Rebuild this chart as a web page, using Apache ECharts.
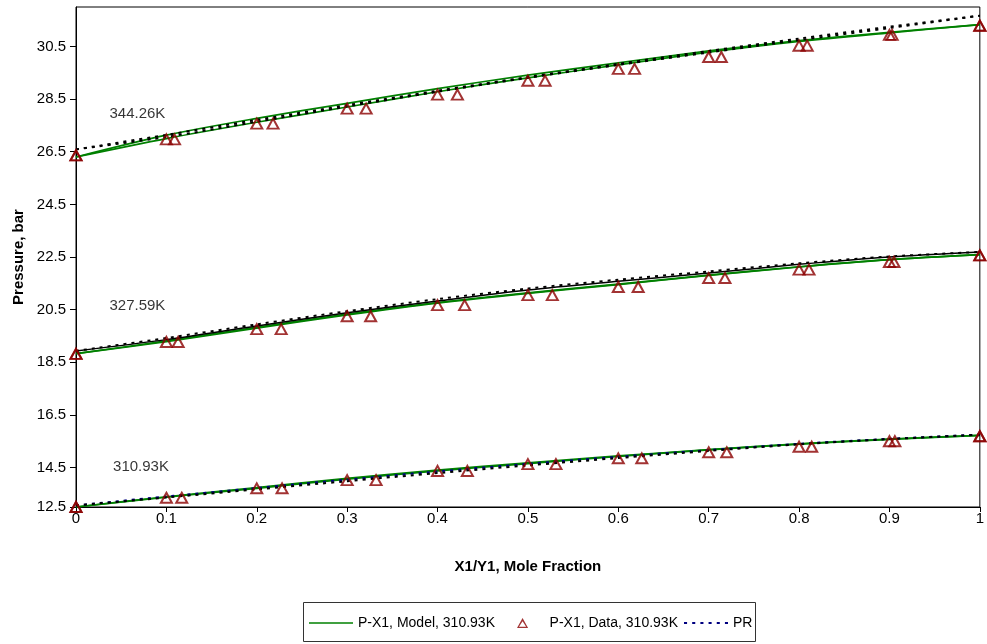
<!DOCTYPE html>
<html>
<head>
<meta charset="utf-8">
<script src="https://cdn.jsdelivr.net/npm/echarts@6/dist/echarts.min.js"></script>
<style>html,body{margin:0;padding:0;background:#fff;}#chart{width:987px;height:644px;}</style>
</head>
<body>
<div id="chart"></div>
<script>
// ---- Data ----
const xGrid = [0, 0.1, 0.2, 0.3, 0.4, 0.5, 0.6, 0.7, 0.8, 0.9, 1];

// 310.93 K
const dataX1_310 = [0, 0.1, 0.2, 0.3, 0.4, 0.5, 0.6, 0.7, 0.8, 0.9, 1];
const dataY1_310 = [0, 0.117, 0.228, 0.332, 0.433, 0.531, 0.626, 0.72, 0.814, 0.906, 1];
const dataP_310  = [13.0, 13.35, 13.71, 14.02, 14.37, 14.63, 14.85, 15.08, 15.29, 15.50, 15.69];
const modelX_310 = [13.0, 13.37, 13.71, 14.06, 14.37, 14.65, 14.92, 15.17, 15.39, 15.57, 15.72];
const modelY_310 = [13.0, 13.39, 13.74, 14.09, 14.40, 14.68, 14.94, 15.18, 15.40, 15.58, 15.72];
const prX_310    = [13.06, 13.40, 13.72, 14.04, 14.35, 14.64, 14.91, 15.16, 15.40, 15.59, 15.75];
const prY_310    = [13.06, 13.36, 13.67, 13.98, 14.29, 14.58, 14.86, 15.13, 15.38, 15.58, 15.75];

// 327.59 K
const dataX1_327 = [0, 0.1, 0.2, 0.3, 0.4, 0.5, 0.6, 0.7, 0.8, 0.9, 1];
const dataY1_327 = [0, 0.113, 0.227, 0.326, 0.43, 0.527, 0.622, 0.718, 0.811, 0.905, 1];
const dataP_327  = [18.82, 19.27, 19.76, 20.25, 20.67, 21.05, 21.36, 21.70, 22.02, 22.31, 22.56];
const modelX_327 = [18.83, 19.28, 19.80, 20.30, 20.75, 21.12, 21.45, 21.80, 22.12, 22.40, 22.59];
const modelY_327 = [18.83, 19.31, 19.83, 20.33, 20.77, 21.14, 21.47, 21.81, 22.13, 22.40, 22.59];
const prX_327    = [18.93, 19.42, 19.94, 20.44, 20.90, 21.30, 21.64, 21.95, 22.26, 22.52, 22.69];
const prY_327    = [18.93, 19.36, 19.88, 20.38, 20.83, 21.25, 21.58, 21.89, 22.22, 22.50, 22.69];

// 344.26 K
const dataX1_344 = [0, 0.1, 0.2, 0.3, 0.4, 0.5, 0.6, 0.7, 0.8, 0.9, 1];
const dataY1_344 = [0, 0.109, 0.218, 0.321, 0.422, 0.519, 0.618, 0.714, 0.809, 0.903, 1];
const dataP_344  = [26.36, 26.97, 27.57, 28.14, 28.67, 29.20, 29.65, 30.10, 30.53, 30.94, 31.29];
const modelX_344 = [26.30, 27.00, 27.62, 28.20, 28.78, 29.31, 29.80, 30.28, 30.69, 31.02, 31.33];
const modelY_344 = [26.30, 27.13, 27.77, 28.34, 28.90, 29.41, 29.88, 30.33, 30.72, 31.04, 31.33];
const prX_344    = [26.59, 27.14, 27.71, 28.27, 28.82, 29.34, 29.84, 30.33, 30.80, 31.25, 31.67];
const prY_344    = [26.59, 27.06, 27.64, 28.22, 28.78, 29.31, 29.80, 30.27, 30.74, 31.20, 31.67];

// Temperature annotations [x, y, text]
const tempLabels = [
  [0.037, 27.95, '344.26K'],
  [0.037, 20.63, '327.59K'],
  [0.041, 14.53, '310.93K']
];

// Axis ticks
const xTickLabels = ['0', '0.1', '0.2', '0.3', '0.4', '0.5', '0.6', '0.7', '0.8', '0.9', '1'];
const yTickValues = [13, 14.5, 16.5, 18.5, 20.5, 22.5, 24.5, 26.5, 28.5, 30.5];
const yTickLabels = ['12.5', '14.5', '16.5', '18.5', '20.5', '22.5', '24.5', '26.5', '28.5', '30.5'];

const legendNames = ['P-X1, Model, 310.93K', 'P-X1, Data, 310.93K', 'PR'];

// ---- Styles ----
const FONT = "'Liberation Sans', Arial, sans-serif";
const GREEN = '#008000';
const RED = '#8B0000';
const NAVY = '#000080';
const BLACK = '#000000';
const DOT = [3, 5];

function pairs(xs, ys) { return xs.map((x, i) => [x, ys[i]]); }

function lineSeries(name, xs, ys, color, type, width, z) {
  return {
    name: name, type: 'line', data: pairs(xs, ys), smooth: 0.3,
    symbol: 'none', showSymbol: false, clip: false, z: z,
    lineStyle: { color: color, width: width, type: type },
    itemStyle: { color: color },
    emphasis: { disabled: true }
  };
}
function dataSeries(name, xs, ys) {
  return {
    name: name, type: 'scatter', data: pairs(xs, ys), clip: false, z: 10,
    symbol: 'triangle', symbolSize: [11, 10],
    itemStyle: { color: 'rgba(0,0,0,0)', borderColor: RED, borderWidth: 2 },
    emphasis: { disabled: true }
  };
}

const series = [
  lineSeries('P-X1, Model, 310.93K', xGrid, modelX_310, GREEN, 'solid', 1.7, 2),
  lineSeries('P-Y1, Model, 310.93K', xGrid, modelY_310, GREEN, 'solid', 1.7, 2),
  lineSeries('PR', xGrid, prX_310, NAVY, DOT, 2, 3),
  lineSeries('PR-Y, 310.93K', xGrid, prY_310, BLACK, [3, 5], 2, 3),
  dataSeries('P-X1, Data, 310.93K', dataX1_310, dataP_310),
  dataSeries('P-Y1, Data, 310.93K', dataY1_310, dataP_310),

  lineSeries('P-X1, Model, 327.59K', xGrid, modelX_327, GREEN, 'solid', 1.7, 2),
  lineSeries('P-Y1, Model, 327.59K', xGrid, modelY_327, GREEN, 'solid', 1.7, 2),
  lineSeries('PR-X, 327.59K', xGrid, prX_327, BLACK, DOT, 2, 3),
  lineSeries('PR-Y, 327.59K', xGrid, prY_327, BLACK, 'solid', 1.5, 3),
  dataSeries('P-X1, Data, 327.59K', dataX1_327, dataP_327),
  dataSeries('P-Y1, Data, 327.59K', dataY1_327, dataP_327),

  lineSeries('P-X1, Model, 344.26K', xGrid, modelX_344, GREEN, 'solid', 1.7, 2),
  lineSeries('P-Y1, Model, 344.26K', xGrid, modelY_344, GREEN, 'solid', 1.7, 2),
  lineSeries('PR-X, 344.26K', xGrid, prX_344, BLACK, DOT, 2, 3),
  lineSeries('PR-Y, 344.26K', xGrid, prY_344, BLACK, DOT, 2, 3),
  dataSeries('P-X1, Data, 344.26K', dataX1_344, dataP_344),
  dataSeries('P-Y1, Data, 344.26K', dataY1_344, dataP_344),

  {
    name: 'labels', type: 'scatter', symbolSize: 0, z: 11, clip: false,
    data: tempLabels.map(t => ({ value: [t[0], t[1]], name: t[2] })),
    label: { show: true, position: 'right', distance: 0, formatter: p => p.name,
             color: '#000', fontSize: 15, fontFamily: FONT },
    emphasis: { disabled: true }, silent: true
  }
];

function dashPath() {
  let s = '';
  for (let x = 0; x < 44; x += 8) s += 'M' + x + ',0h3v2h-3z';
  return 'path://' + s;
}

const legendIcons = [
  { icon: 'path://M0,0H44V1.5H0Z', color: GREEN, left: 309 },
  { icon: 'path://M5,0L10,9L0,9Z M5,2.9L1.8,7.9L8.2,7.9Z', color: RED, left: 517 },
  { icon: dashPath(), color: NAVY, left: 684 }
];

const legends = legendNames.map((n, i) => ({
  data: [{ name: n, icon: legendIcons[i].icon, itemStyle: { color: legendIcons[i].color, borderWidth: 0 } }],
  left: legendIcons[i].left, top: 616, orient: 'horizontal', z: 6,
  itemWidth: 44, itemHeight: 10, itemGap: 0, symbolKeepAspect: true,
  padding: 0, backgroundColor: 'transparent', borderWidth: 0,
  textStyle: { fontSize: 14, color: '#000', fontFamily: FONT },
  selectedMode: false
}));

const option = {
  animation: false,
  backgroundColor: '#fff',
  textStyle: { fontFamily: FONT },
  grid: { left: 76, right: 2, top: 7, bottom: 137, show: true, borderColor: '#000', borderWidth: 1, backgroundColor: '#fff' },
  graphic: [{
    type: 'rect', z: 1, silent: true,
    shape: { x: 303.5, y: 602.5, width: 452, height: 39 },
    style: { fill: '#fff', stroke: '#333', lineWidth: 1 }
  }],
  xAxis: {
    type: 'value', min: 0, max: 1, interval: 0.1,
    name: 'X1/Y1, Mole Fraction', nameLocation: 'middle', nameGap: 52,
    nameTextStyle: { fontSize: 15, fontWeight: 'bold', color: '#000', fontFamily: FONT },
    axisLine: { show: true, lineStyle: { color: '#000', width: 1 } },
    axisTick: { show: true, length: 5, inside: false, lineStyle: { color: '#000' } },
    axisLabel: { fontSize: 15, color: '#000', margin: 4, fontFamily: FONT,
      formatter: v => xTickLabels[Math.round(v * 10)] },
    splitLine: { show: false }
  },
  yAxis: {
    type: 'value', min: 13, max: 32,
    name: 'Pressure, bar', nameLocation: 'middle', nameGap: 50, nameRotate: 90,
    nameTextStyle: { fontSize: 15, fontWeight: 'bold', color: '#000', fontFamily: FONT },
    axisLine: { show: true, onZero: false, lineStyle: { color: '#000', width: 1 } },
    axisTick: { show: true, length: 6, inside: false, customValues: yTickValues, lineStyle: { color: '#000' } },
    axisLabel: { fontSize: 15, color: '#000', margin: 10, fontFamily: FONT, customValues: yTickValues,
      formatter: v => { const i = yTickValues.findIndex(t => Math.abs(t - v) < 1e-6); return i >= 0 ? yTickLabels[i] : ''; } },
    splitLine: { show: false }
  },
  legend: legends,
  series: series
};

const chart = echarts.init(document.getElementById('chart'), null, { renderer: 'canvas' });
chart.setOption(option);
</script>
</body>
</html>
